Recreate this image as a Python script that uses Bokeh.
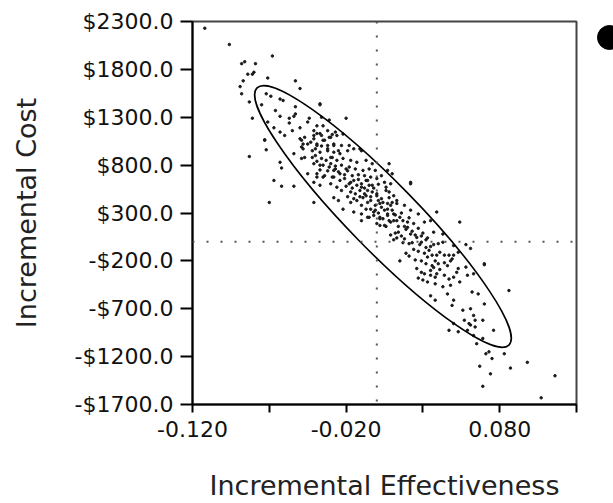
from bokeh.plotting import figure
from bokeh.layouts import row
from bokeh.models import Range1d, FixedTicker, CustomJSTickFormatter, Span
from bokeh.embed import file_html
from bokeh.resources import INLINE

# ---------------- data ----------------
X_TITLE = "Incremental Effectiveness"
Y_TITLE = "Incremental Cost"

X_MIN, X_MAX = -0.12, 0.13
Y_MIN, Y_MAX = -1700, 2300
X_TICKS = [-0.12, -0.02, 0.08]
X_MINOR = [-0.07, 0.03, 0.13]
Y_TICKS = [-1700, -1200, -700, -200, 300, 800, 1300, 1800, 2300]

REF_X = 0.0
REF_Y = 0.0

ELLIPSE_CX = 0.004
ELLIPSE_CY = 264.0

X_EFF = [
    -0.112, -0.096, -0.068, -0.088, -0.086, -0.079, -0.084, -0.081, -0.080, -0.087, -0.071, -0.053, -0.089, -0.050, -0.088,
    -0.083, -0.081, -0.073, -0.072, -0.083, -0.063, -0.062, -0.067, -0.062, -0.054, -0.070, -0.041, -0.037, -0.020, -0.073,
    -0.072, -0.069, -0.063, -0.061, -0.075, -0.037, -0.053, -0.066, -0.053, -0.054, -0.063, -0.057, -0.044, -0.036, -0.071,
    -0.057, -0.045, -0.031, -0.039, -0.035, -0.067, -0.050, -0.041, -0.032, -0.055, -0.063, -0.060, -0.041, -0.037, -0.029,
    -0.026, -0.050, -0.048, -0.043, -0.039, -0.035, -0.031, -0.049, -0.040, -0.036, -0.032, -0.028, -0.025, -0.054, -0.049,
    -0.042, -0.039, -0.033, -0.029, -0.035, -0.030, -0.027, -0.037, -0.032, -0.028, -0.025, -0.039, -0.035, -0.029, -0.039,
    -0.036, -0.047, -0.041, -0.034, -0.030, -0.049, -0.045, -0.039, -0.032, -0.028, -0.023, -0.018, -0.022, -0.027, -0.048,
    -0.042, -0.037, -0.032, -0.028, -0.024, -0.019, -0.015, -0.010, -0.047, -0.040, -0.036, -0.030, -0.026, -0.022, -0.017,
    -0.013, -0.007, -0.003, -0.041, -0.037, -0.031, -0.027, -0.023, -0.018, -0.014, -0.009, -0.005, -0.001, -0.045, -0.039,
    -0.034, -0.028, -0.024, -0.021, -0.017, -0.015, -0.018, -0.013, -0.010, -0.006, -0.004, 0.000, 0.003, 0.006, 0.009,
    0.007, 0.008, -0.041, -0.037, -0.030, -0.026, -0.023, -0.017, -0.014, -0.011, -0.007, -0.003, 0.000, 0.003, -0.028,
    -0.025, -0.022, -0.017, -0.013, -0.010, -0.006, -0.004, -0.001, 0.003, 0.007, 0.010, 0.013, -0.015, -0.010, -0.006,
    -0.002, 0.002, 0.007, 0.011, 0.000, 0.005, 0.009, 0.013, -0.010, 0.010, 0.008, -0.011, -0.010, -0.006, -0.003,
    0.000, -0.009, -0.004, 0.001, 0.006, 0.005, 0.011, 0.013, 0.009, 0.018, 0.022, 0.022, 0.027, -0.007, -0.002,
    0.002, 0.007, 0.011, 0.015, 0.020, 0.024, 0.031, 0.035, 0.037, 0.039, 0.006, 0.009, 0.011, 0.014, 0.018,
    0.022, 0.026, 0.032, 0.035, 0.028, 0.024, 0.033, 0.038, 0.041, 0.043, 0.046, 0.049, 0.052, 0.026, 0.029,
    0.035, 0.038, 0.044, 0.047, 0.015, -0.007, -0.005, 0.002, 0.008, 0.018, 0.043, 0.050, 0.047, 0.029, 0.037,
    0.040, 0.031, 0.039, 0.044, 0.048, 0.050, 0.032, 0.036, 0.040, 0.031, 0.035, 0.039, 0.033, 0.038, 0.043,
    0.048, 0.053, 0.058, 0.050, 0.054, 0.059, 0.063, 0.062, 0.066, 0.046, 0.050, 0.049, 0.056, 0.061, 0.063,
    0.070, 0.057, 0.060, 0.064, 0.069, 0.076, 0.047, 0.050, 0.053, 0.070, 0.086, 0.035, 0.038, 0.053, 0.058,
    0.061, 0.064, 0.059, 0.063, 0.069, 0.065, 0.071, 0.073, 0.075, 0.083, 0.067, 0.074, 0.087, 0.098, 0.069,
    0.116, 0.107, 0.054, 0.070, 0.061, 0.022,
    -0.021, -0.019, -0.016, -0.012, -0.020, -0.016, -0.012, -0.008, -0.024, -0.019, -0.015, -0.011, -0.005, -0.020, -0.008,
    -0.002, 0.001, 0.004, -0.004, -0.001, 0.002, 0.005, 0.008, 0.004, 0.007, 0.010, 0.012, 0.016, -0.008, 0.001,
    0.014, 0.017, 0.019, 0.021, 0.012, 0.016, 0.020, 0.023, 0.027, 0.017, 0.021, 0.025, 0.029, 0.013, 0.019,
    0.023, 0.027, 0.030, 0.033, 0.025, 0.029, 0.034, 0.037, 0.030, 0.041, 0.044, 0.021, 0.027, 0.032, 0.036,
]

Y_COST = [
    2230, 2060, 1940, 1860, 1880, 1860, 1750, 1750, 1770, 1680, 1710, 1680, 1620, 1600, 1545,
    1460, 1290, 1065, 960, 890, 830, 770, 640, 580, 580, 410, 410, 1440, 1290, 1060,
    1545, 1520, 1490, 1475, 1430, 1430, 1410, 1370, 1335, 1310, 1310, 1290, 1290, 1300, 1250,
    1240, 1250, 1270, 1210, 1210, 1190, 1190, 1160, 1160, 1160, 1145, 1110, 1110, 1130, 1120,
    1110, 1075, 1020, 1040, 1020, 1060, 1090, 990, 970, 1000, 970, 1005, 950, 920, 870,
    880, 840, 850, 880, 800, 815, 790, 750, 740, 745, 730, 675, 675, 675, 1130,
    1110, 1090, 1075, 1060, 1090, 1060, 1020, 1005, 1005, 1020, 1005, 1005, 1125, 1145, 970,
    950, 935, 950, 935, 920, 950, 970, 950, 880, 900, 870, 880, 850, 870, 850,
    830, 850, 815, 815, 800, 780, 760, 800, 780, 760, 745, 760, 745, 710, 710,
    690, 675, 710, 660, 620, 640, 605, 590, 605, 640, 675, 660, 690, 570, 605,
    745, 520, 620, 590, 605, 570, 535, 520, 500, 535, 480, 520, 480, 450, 460,
    430, 340, 410, 430, 380, 410, 340, 380, 360, 400, 410, 430, 310, 290, 255,
    275, 240, 275, 290, 190, 170, 205, 220, 220, 710, 815, 970, 570, 535, 590,
    500, 460, 430, 430, 535, 620, 480, 400, 380, 380, 605, 330, 290, 340, 310,
    255, 290, 220, 255, 205, 190, 205, 220, 100, 310, 160, 70, 20, 100, 30,
    80, 45, 20, -50, -30, -80, -160, -200, -110, -5, -250, -180, -320, -280, -320,
    -300, -370, -350, -390, -200, 640, 255, 170, 220, 160, 80, -40, -140, -5, -30,
    -20, -120, -140, -140, -200, -140, -230, -250, -230, -335, -350, -335, -420, -440, -470,
    -455, -280, -265, -370, -420, -350, -335, -525, -545, -545, -610, -665, -715, -700, -770,
    -650, -820, -855, -820, -820, -925, -925, -855, -940, -230, -510, -565, -610, -110, -30,
    -870, -890, -925, -980, -1010, -1065, -1170, -1150, -1220, -1170, -1300, -1380, -1320, -1260, -1510,
    -1400, -1630, 205, -240, -70, 620,
    700, 740, 690, 700, 580, 560, 650, 560, 640, 470, 450, 470, 590, 760, 690,
    560, 600, 410, 470, 330, 400, 330, 460, 240, 340, 330, 280, 300, 500, 300,
    160, 220, 130, 250, 90, 60, 150, 110, 140, -10, -20, 70, 60, 40, -120,
    -10, -100, 90, 40, -190, -200, -90, -270, -400, -290, -220, -150, -380, -60, -140,
]

# legend symbol (only its left part is visible in the reference)
SYMBOL_X = [14]
SYMBOL_Y = [482]

# ---------------- main figure ----------------
FONT = "DejaVu Sans"

p = figure(width=595, height=503, output_backend="svg", toolbar_location=None,
           title=None,
           x_range=Range1d(X_MIN, X_MAX), y_range=Range1d(Y_MIN, Y_MAX),
           min_border_left=192, min_border_right=19, min_border_top=21, min_border_bottom=98)
p.xgrid.visible = False
p.ygrid.visible = False
p.outline_line_color = "#444444"
p.outline_line_width = 2
p.background_fill_color = "white"
p.border_fill_color = "white"

# reference lines (dotted)
p.add_layout(Span(location=REF_X, dimension="height", line_color="#555555",
                  line_width=2, line_dash="2 12"))
p.add_layout(Span(location=REF_Y, dimension="width", line_color="#555555",
                  line_width=2, line_dash="2 12"))

# scatter cloud
p.scatter(X_EFF, Y_COST, marker="circle", size=2.5, color="#1a1a1a")

# confidence ellipse
p.ellipse(x=[ELLIPSE_CX], y=[ELLIPSE_CY], width=360, height=68, angle=-0.796,
          width_units="screen", height_units="screen",
          fill_color=None, line_color="black", line_width=1.6)

# axes
p.xaxis.ticker = FixedTicker(ticks=X_TICKS, minor_ticks=X_MINOR)
p.yaxis.ticker = FixedTicker(ticks=Y_TICKS)
p.xaxis.formatter = CustomJSTickFormatter(code="return tick.toFixed(3);")
p.yaxis.formatter = CustomJSTickFormatter(
    code="return (tick < 0 ? '-' : '') + '$' + Math.abs(tick).toFixed(1);")
p.xaxis.axis_label = X_TITLE
p.yaxis.axis_label = Y_TITLE

for ax in p.axis:
    ax.axis_line_color = "black"
    ax.axis_line_width = 2
    ax.major_tick_line_color = "black"
    ax.major_tick_line_width = 2
    ax.major_tick_in = 0
    ax.major_label_text_font = FONT
    ax.major_label_text_font_size = "22px"
    ax.major_label_text_color = "#111111"
    ax.axis_label_text_font = FONT
    ax.axis_label_text_font_size = "27px"
    ax.axis_label_text_font_style = "normal"
    ax.axis_label_text_color = "#222222"

p.yaxis.major_tick_out = 12
p.yaxis.minor_tick_line_color = None
p.yaxis.major_label_standoff = 7
p.yaxis.axis_label_standoff = 30

p.xaxis.major_tick_out = 8
p.xaxis.minor_tick_out = 8
p.xaxis.minor_tick_in = 0
p.xaxis.minor_tick_line_width = 2
p.xaxis.minor_tick_line_color = "black"
p.xaxis.major_label_standoff = 8
p.xaxis.axis_label_standoff = 30

# ---------------- narrow strip holding the legend symbol ----------------
q = figure(width=18, height=503, output_backend="svg", toolbar_location=None,
           title=None,
           x_range=Range1d(0, 18), y_range=Range1d(0, 503),
           x_axis_type=None, y_axis_type=None,
           min_border_left=0, min_border_right=0, min_border_top=0, min_border_bottom=0)
q.xgrid.visible = False
q.ygrid.visible = False
q.outline_line_color = None
q.background_fill_color = "white"
q.border_fill_color = "white"
q.scatter(SYMBOL_X, SYMBOL_Y, marker="circle", size=24, color="black")

layout = row(p, q, spacing=0)

open("out.html", "w").write(file_html(layout, INLINE))
